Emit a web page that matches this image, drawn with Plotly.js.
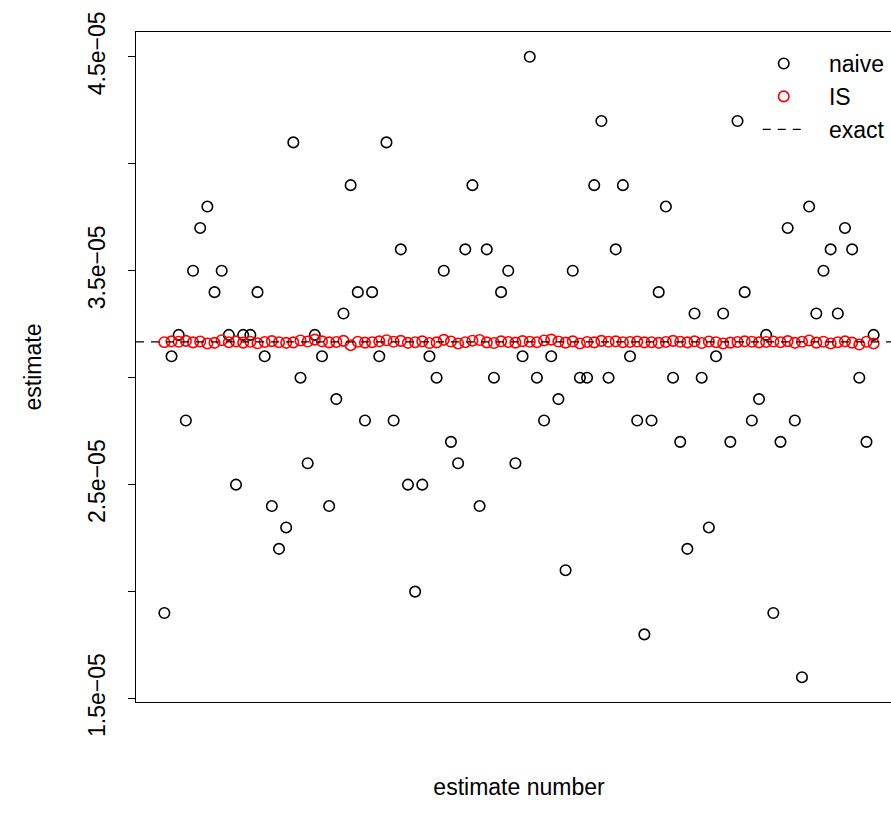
<!DOCTYPE html>
<html><head><meta charset="utf-8">
<script src="https://cdn.plot.ly/plotly-3.0.1.min.js"></script>
<style>html,body{margin:0;padding:0;overflow:hidden;background:#fff}#wrap{width:891px;height:826px;overflow:hidden}#plot{width:1000px;height:826px}</style>
</head><body><div id="wrap"><div id="plot"></div></div>
<script>
const estimateNumber = [1,2,3,4,5,6,7,8,9,10,11,12,13,14,15,16,17,18,19,20,21,22,23,24,25,26,27,28,29,30,31,32,33,34,35,36,37,38,39,40,41,42,43,44,45,46,47,48,49,50,51,52,53,54,55,56,57,58,59,60,61,62,63,64,65,66,67,68,69,70,71,72,73,74,75,76,77,78,79,80,81,82,83,84,85,86,87,88,89,90,91,92,93,94,95,96,97,98,99,100];
const naive = [1.9e-05,3.1e-05,3.2e-05,2.8e-05,3.5e-05,3.7e-05,3.8e-05,3.4e-05,3.5e-05,3.2e-05,
2.5e-05,3.2e-05,3.2e-05,3.4e-05,3.1e-05,2.4e-05,2.2e-05,2.3e-05,4.1e-05,3.0e-05,
2.6e-05,3.2e-05,3.1e-05,2.4e-05,2.9e-05,3.3e-05,3.9e-05,3.4e-05,2.8e-05,3.4e-05,
3.1e-05,4.1e-05,2.8e-05,3.6e-05,2.5e-05,2.0e-05,2.5e-05,3.1e-05,3.0e-05,3.5e-05,
2.7e-05,2.6e-05,3.6e-05,3.9e-05,2.4e-05,3.6e-05,3.0e-05,3.4e-05,3.5e-05,2.6e-05,
3.1e-05,4.5e-05,3.0e-05,2.8e-05,3.1e-05,2.9e-05,2.1e-05,3.5e-05,3.0e-05,3.0e-05,
3.9e-05,4.2e-05,3.0e-05,3.6e-05,3.9e-05,3.1e-05,2.8e-05,1.8e-05,2.8e-05,3.4e-05,
3.8e-05,3.0e-05,2.7e-05,2.2e-05,3.3e-05,3.0e-05,2.3e-05,3.1e-05,3.3e-05,2.7e-05,
4.2e-05,3.4e-05,2.8e-05,2.9e-05,3.2e-05,1.9e-05,2.7e-05,3.7e-05,2.8e-05,1.6e-05,
3.8e-05,3.3e-05,3.5e-05,3.6e-05,3.3e-05,3.7e-05,3.6e-05,3.0e-05,2.7e-05,3.2e-05];
const importanceSampling = [3.166e-05,3.170e-05,3.168e-05,3.172e-05,3.165e-05,3.169e-05,3.160e-05,3.163e-05,3.175e-05,3.166e-05,
3.170e-05,3.164e-05,3.168e-05,3.161e-05,3.167e-05,3.171e-05,3.166e-05,3.163e-05,3.165e-05,3.174e-05,
3.169e-05,3.178e-05,3.170e-05,3.165e-05,3.167e-05,3.172e-05,3.152e-05,3.168e-05,3.164e-05,3.166e-05,
3.170e-05,3.175e-05,3.168e-05,3.172e-05,3.163e-05,3.166e-05,3.170e-05,3.162e-05,3.165e-05,3.177e-05,
3.169e-05,3.160e-05,3.166e-05,3.173e-05,3.176e-05,3.165e-05,3.162e-05,3.170e-05,3.167e-05,3.164e-05,
3.171e-05,3.168e-05,3.166e-05,3.174e-05,3.178e-05,3.169e-05,3.164e-05,3.170e-05,3.160e-05,3.167e-05,
3.165e-05,3.172e-05,3.168e-05,3.170e-05,3.166e-05,3.167e-05,3.169e-05,3.165e-05,3.166e-05,3.163e-05,
3.167e-05,3.172e-05,3.168e-05,3.165e-05,3.170e-05,3.162e-05,3.169e-05,3.166e-05,3.160e-05,3.164e-05,
3.167e-05,3.170e-05,3.168e-05,3.165e-05,3.167e-05,3.169e-05,3.166e-05,3.171e-05,3.163e-05,3.168e-05,
3.174e-05,3.164e-05,3.168e-05,3.160e-05,3.166e-05,3.170e-05,3.164e-05,3.155e-05,3.168e-05,3.160e-05];
const exactValue = 3.167124e-05;
const yTickVals = [1.5e-05,2.0e-05,2.5e-05,3.0e-05,3.5e-05,4.0e-05,4.5e-05];
const yTickText = ['1.5e\u221205','','2.5e\u221205','','3.5e\u221205','','4.5e\u221205'];
const seriesNames = ['naive','IS','exact'];

// R-style 4% axis extension
const nMin = Math.min(...estimateNumber), nMax = Math.max(...estimateNumber);
const xPad = 0.04*(nMax-nMin);
const xRange = [nMin - xPad, nMax + xPad];
const allY = naive.concat(importanceSampling);
const yMin = Math.min(...allY), yMax = Math.max(...allY);
const yPad = 0.04*(yMax-yMin);
const yRange = [yMin - yPad, yMax + yPad];

const FONT = 'Liberation Sans, Arial, Helvetica, sans-serif';
const pad = '\u00A0\u00A0\u00A0';
const traces = [
  {x: estimateNumber, y: naive, type:'scatter', mode:'markers', name: pad+seriesNames[0],
   marker:{symbol:'circle-open', size:10.5, color:'#000', line:{width:1.6, color:'#000'}}},
  {x: estimateNumber, y: importanceSampling, type:'scatter', mode:'markers', name: pad+seriesNames[1],
   marker:{symbol:'circle-open', size:10.5, color:'#ff0000', line:{width:1.6, color:'#ff0000'}}},
  {x: xRange, y: [exactValue, exactValue], type:'scatter', mode:'lines', name: pad+seriesNames[2],
   line:{color:'#000', width:1.3, dash:'8px,7px'}}
];
const layout = {
  width:1000, height:826,
  margin:{l:135.6, r:98.3, t:32, b:124, autoexpand:false},
  paper_bgcolor:'#fff', plot_bgcolor:'#fff',
  font:{family:FONT, size:23, color:'#000'},
  showlegend:true,
  legend:{x:0.8117, y:0.985, xanchor:'left', yanchor:'top', bgcolor:'rgba(0,0,0,0)', borderwidth:0,
          font:{family:FONT, size:23, color:'#000'}, itemwidth:42, traceorder:'normal', tracegroupgap:0},
  xaxis:{range:xRange, showticklabels:false, ticks:'', showgrid:false, zeroline:false,
         showline:true, mirror:true, linecolor:'#000', linewidth:1.3, automargin:false,
         title:{text:'estimate number', font:{family:FONT, size:23}, standoff:76}},
  yaxis:{range:yRange, tickmode:'array', tickvals:yTickVals, ticktext:yTickText, tickangle:-90,
         ticks:'outside', ticklen:7, tickwidth:1.3, tickcolor:'#000', showgrid:false, zeroline:false,
         showline:true, mirror:true, linecolor:'#000', linewidth:1.3, automargin:false,
         ticklabelstandoff:14, tickfont:{family:FONT, size:23},
         title:{text:'estimate', font:{family:FONT, size:23}, standoff:35}}
};
Plotly.newPlot('plot', traces, layout, {displayModeBar:false, staticPlot:true});
</script></body></html>
